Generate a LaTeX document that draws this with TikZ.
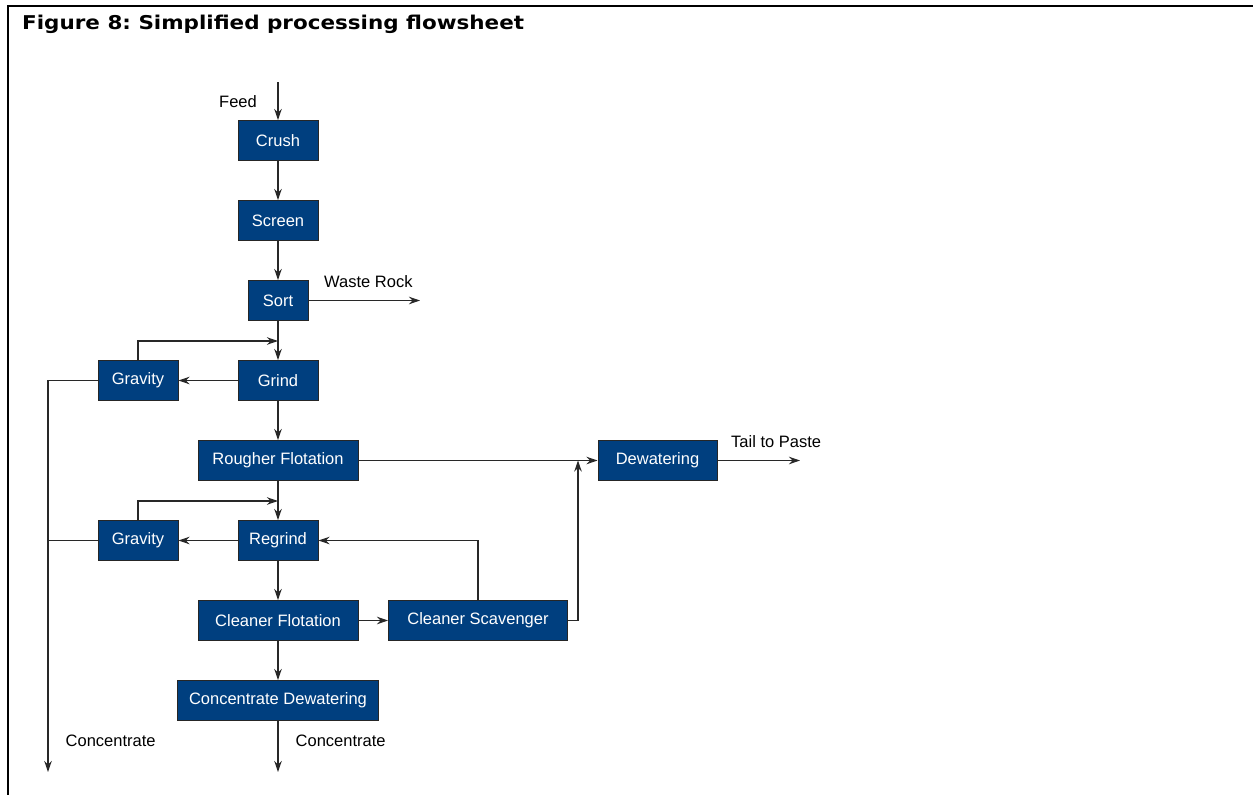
\documentclass[tikz,border=0pt]{standalone}
\usepackage{fontspec}
\setmainfont{Liberation Sans}
\newfontfamily\titlefont[FakeStretch=1.13]{DejaVu Sans}
\usetikzlibrary{arrows.meta}
\definecolor{boxblue}{RGB}{0,63,127}
\definecolor{linegray}{RGB}{40,40,40}
\frenchspacing
\begin{document}
\begin{tikzpicture}[x=1pt,y=-1pt,
  proc/.style={draw=black!85, line width=1pt, fill=boxblue, text=white,
    font=\fontsize{16.5}{18}\selectfont, minimum height=40pt, inner sep=0pt},
  flow/.style={line width=1.1pt, draw=linegray, -{Stealth[length=11pt,width=7.5pt,inset=3.5pt]}},
  plain/.style={line width=1.1pt, draw=linegray},
  lbl/.style={font=\fontsize{16.5}{18}\selectfont, text=black, inner sep=0pt}]
\useasboundingbox (0,0) rectangle (1253,795);
\draw[line width=2pt] (1253,5.5) -- (8,5.5) -- (8,795);
\node[anchor=base west, inner sep=0pt, font=\titlefont\bfseries\fontsize{19}{21}\selectfont] (title) at (22,29) {Figure 8: Simplified processing flowsheet};

% process boxes
\node[proc, minimum width=80pt] (crush) at (278,140.5) {Crush};
\node[proc, minimum width=80pt] (screen) at (278,220.5) {Screen};
\node[proc, minimum width=60pt] (sort) at (278,300.5) {Sort};
\node[proc, minimum width=80pt] (grind) at (278,380.5) {Grind};
\node[proc, minimum width=80pt] (grav1) at (138,380.5) {Gravity};
\node[proc, minimum width=160pt] (rougher) at (278,460.5) {Rougher Flotation};
\node[proc, minimum width=119pt] (dewat) at (657.5,460.5) {Dewatering};
\node[proc, minimum width=80pt] (grav2) at (138,540.5) {Gravity};
\node[proc, minimum width=80pt] (regrind) at (278,540.5) {Regrind};
\node[proc, minimum width=160pt] (cleaner) at (278,620.5) {Cleaner Flotation};
\node[proc, minimum width=179pt] (scav) at (478,620.5) {Cleaner Scavenger};
\node[proc, minimum width=201pt] (cdew) at (278,700.5) {Concentrate Dewatering};

% labels
\node[lbl, anchor=east] (feedlbl) at (257,101.5) {Feed};
\node[lbl, anchor=west] (wastelbl) at (324,281.5) {Waste Rock};
\node[lbl, anchor=west] (taillbl) at (731,441.5) {Tail to Paste};
\node[lbl, anchor=west] (conclbl1) at (65.5,740.5) {Concentrate};
\node[lbl, anchor=west] (conclbl2) at (295.5,740.5) {Concentrate};

% free ends and junctions
\coordinate (feedin) at (278,82);
\coordinate (waste) at (420,300.5);
\coordinate (g1join) at (278,341);
\coordinate (g2join) at (278,501);
\coordinate (dwjoin) at (578,460.5);
\coordinate (tail) at (800,460.5);
\coordinate (conc1) at (48,772);
\coordinate (conc2) at (278,772);

% connectors
\draw[flow] (feedin) -- (crush);
\draw[flow] (crush) -- (screen);
\draw[flow] (screen) -- (sort);
\draw[flow] (sort) -- (grind);
\draw[flow] (sort) -- (waste);
\draw[flow] (grav1.north) |- (g1join);
\draw[flow] (grind) -- (grav1);
\draw[flow] (grav1.west) -| (conc1);
\draw[plain] (grav2.west) -- (grav2.west -| conc1);
\draw[flow] (grind) -- (rougher);
\draw[flow] (rougher) -- (dewat);
\draw[flow] (scav.east) -| (dwjoin);
\draw[flow] (dewat) -- (tail);
\draw[flow] (rougher) -- (regrind);
\draw[flow] (grav2.north) |- (g2join);
\draw[flow] (regrind) -- (grav2);
\draw[flow] (regrind) -- (cleaner);
\draw[flow] (cleaner) -- (scav);
\draw[flow] (scav.north) |- (regrind.east);
\draw[flow] (cleaner) -- (cdew);
\draw[flow] (cdew) -- (conc2);
\end{tikzpicture}
\end{document}
